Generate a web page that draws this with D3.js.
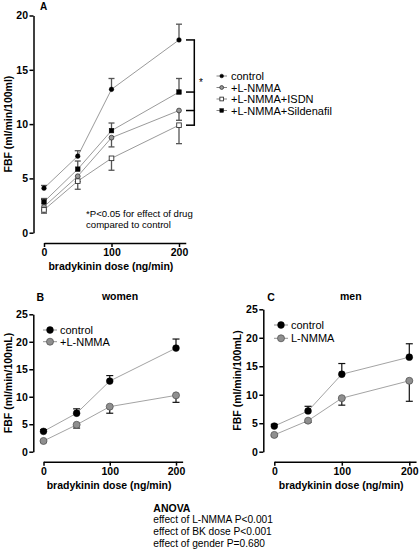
<!DOCTYPE html>
<html><head><meta charset="utf-8">
<script src="https://cdn.jsdelivr.net/npm/d3@7"></script>
<style>
body{margin:0;background:#fff;}
svg{display:block;font-family:"Liberation Sans",Arial,sans-serif;}
</style></head>
<body><svg id="c" width="420" height="558"></svg>
<script>
// ---------- data ----------
const doses = [0, 50, 100, 200];
const xTicks = [0, 100, 200];
const yTicksA = [0, 5, 10, 15, 20];
const yTicksBC = [0, 5, 10, 15, 20, 25];

// Panel A
const aControl = [4.1, 7.05, 13.2, 17.75];
const aControlErr = [0.25, 0.5, 1.0, 1.45];
const aLNMMA = [2.4, 5.2, 8.75, 11.25];
const aLNMMAErr = [0.3, 0.5, 0.85, 0.9];
const aISDN = [2.1, 4.75, 6.85, 9.9];
const aISDNErr = [0.3, 0.75, 1.1, 1.7];
const aSild = [2.85, 5.85, 9.4, 12.95];
const aSildErr = [0.3, 0.75, 0.7, 1.25];
const aLegend = ["control", "+L-NMMA", "+L-NMMA+ISDN", "+L-NMMA+Sildenafil"];

// Panel B (women)
const bControl = [3.7, 7.0, 12.85, 18.85];
const bControlErr = [0.3, 0.8, 1.0, 1.65];
const bLNMMA = [1.95, 4.9, 8.2, 10.25];
const bLNMMAErr = [0.2, 0.6, 1.2, 1.27];
const bLegend = ["control", "+L-NMMA"];

// Panel C (men)
const cControl = [4.5, 7.15, 13.6, 16.6];
const cControlErr = [0.3, 0.82, 1.88, 2.35];
const cLNMMA = [2.95, 5.45, 9.4, 12.45];
const cLNMMAErr = [0.2, 0.3, 1.23, 3.6];
const cLegend = ["control", "L-NMMA"];

const anovaLines = ["effect of L-NMMA P<0.001", "effect of BK dose P<0.001", "effect of gender P=0.680"];

// ---------- drawing ----------
const svg = d3.select("#c");

function axes(g, x, y, yTicks, xAxisY, yAxisX, xLabel, yLabel, yLabelX) {
  const xa = d3.scaleLinear().domain([0, 210]).range([x(0), x(210)]);
  const gx = g.append("g").attr("transform", `translate(0,${xAxisY})`)
    .call(d3.axisBottom(xa).tickValues(xTicks).tickSize(4).tickSizeOuter(0).tickPadding(2));
  const gy = g.append("g").attr("transform", `translate(${yAxisX},0)`)
    .call(d3.axisLeft(y).tickValues(yTicks).tickSize(4).tickSizeOuter(0).tickPadding(1.5));
  [gx, gy].forEach(a => {
    a.selectAll("path,line").attr("stroke", "#000").attr("stroke-width", 1.5);
    a.selectAll("text").attr("font-weight", "bold").attr("font-size", 10.5).attr("fill", "#000")
      .attr("font-family", '"Liberation Sans",Arial,sans-serif');
  });
  g.append("text").attr("x", (x(0) + x(210)) / 2 - 4).attr("y", xAxisY + 27)
    .attr("text-anchor", "middle").attr("font-weight", "bold").attr("font-size", 10.5).text(xLabel);
  const [r0, r1] = y.range();
  g.append("text").attr("transform", `translate(${yLabelX},${(r0 + r1) / 2}) rotate(-90)`)
    .attr("text-anchor", "middle").attr("dominant-baseline", "central")
    .attr("font-weight", "bold").attr("font-size", 10.5).text(yLabel);
}

function series(g, x, y, vals, errs, dir, opt) {
  const line = d3.line().x((d, i) => x(doses[i])).y(d => y(d));
  g.append("path").datum(vals).attr("d", line).attr("fill", "none")
    .attr("stroke", opt.lineColor).attr("stroke-width", 0.8);
}
function errs(g, x, y, vals, errs, dir, opt) {
  vals.forEach((v, i) => {
    const cx = x(doses[i]), y0 = y(v), y1 = y(v + dir * errs[i]);
    g.append("line").attr("x1", cx).attr("x2", cx).attr("y1", y0).attr("y2", y1)
      .attr("stroke", opt.errColor).attr("stroke-width", opt.errW);
    g.append("line").attr("x1", cx - opt.cap / 2).attr("x2", cx + opt.cap / 2).attr("y1", y1).attr("y2", y1)
      .attr("stroke", opt.errColor).attr("stroke-width", opt.errW);
  });
}
function marker(g, cx, cy, m) {
  if (m.shape === "circle") {
    g.append("circle").attr("cx", cx).attr("cy", cy).attr("r", m.r)
      .attr("fill", m.fill).attr("stroke", m.stroke).attr("stroke-width", m.sw);
  } else {
    g.append("rect").attr("x", cx - m.r).attr("y", cy - m.r).attr("width", 2 * m.r).attr("height", 2 * m.r)
      .attr("fill", m.fill).attr("stroke", m.stroke).attr("stroke-width", m.sw);
  }
}
function markers(g, x, y, vals, m) {
  vals.forEach((v, i) => marker(g, x(doses[i]), y(v), m));
}

// ===== Panel A =====
{
  const g = svg.append("g");
  const x = d3.scaleLinear().domain([0, 200]).range([44, 179]);
  const y = d3.scaleLinear().domain([0, 20]).range([232.7, 15.5]);
  axes(g, x, y, yTicksA, 243, 33.5, "bradykinin dose (ng/min)", "FBF (ml/min/100ml)", 7.5);
  g.append("text").attr("x", 40).attr("y", 9.5).attr("font-weight", "bold").attr("font-size", 10).text("A");

  const opt = {lineColor: "#808080", errColor: "#555", errW: 1.3, cap: 6};
  const mk = [
    {shape: "circle", r: 2.3, fill: "#000", stroke: "#000", sw: 0.5},
    {shape: "circle", r: 2.4, fill: "#999", stroke: "#333", sw: 0.8},
    {shape: "rect", r: 2.3, fill: "#fff", stroke: "#333", sw: 0.9},
    {shape: "rect", r: 2.3, fill: "#000", stroke: "#000", sw: 0.5}
  ];
  const all = [[aControl, aControlErr, 1], [aLNMMA, aLNMMAErr, -1], [aISDN, aISDNErr, -1], [aSild, aSildErr, 1]];
  all.forEach(s => series(g, x, y, s[0], s[1], s[2], opt));
  all.forEach(s => errs(g, x, y, s[0], s[1], s[2], opt));
  all.forEach((s, k) => markers(g, x, y, s[0], mk[k]));

  // bracket
  const bx = 194.3;
  const ends = [aControl[3], aSild[3], aLNMMA[3], aISDN[3]].map(v => y(v));
  g.append("line").attr("x1", bx).attr("x2", bx).attr("y1", d3.min(ends)).attr("y2", d3.max(ends))
    .attr("stroke", "#000").attr("stroke-width", 1.5);
  ends.forEach(e => g.append("line").attr("x1", 186).attr("x2", bx + 0.75).attr("y1", e).attr("y2", e)
    .attr("stroke", "#000").attr("stroke-width", 1.5));
  g.append("text").attr("x", 199).attr("y", 86).attr("font-size", 10).attr("fill", "#000").text("*");

  // legend
  aLegend.forEach((t, k) => {
    const ly = 76 + k * 11.5;
    g.append("line").attr("x1", 216.5).attr("x2", 227).attr("y1", ly).attr("y2", ly)
      .attr("stroke", "#666").attr("stroke-width", 0.8);
    marker(g, 221.7, ly, Object.assign({}, mk[k], {r: mk[k].r * 0.8}));
    g.append("text").attr("x", 231).attr("y", ly).attr("dominant-baseline", "central")
      .attr("font-size", 11).text(t);
  });

  g.append("text").attr("x", 86).attr("y", 216.5).attr("font-size", 9.6).text("*P<0.05 for effect of drug");
  g.append("text").attr("x", 86).attr("y", 227.8).attr("font-size", 9.6).text("compared to control");
}

// ===== Panels B and C =====
function panelBC(p) {
  const g = svg.append("g");
  const x = d3.scaleLinear().domain([0, 200]).range(p.xr);
  const y = d3.scaleLinear().domain([0, 25]).range(p.yr);
  axes(g, x, y, yTicksBC, 461.7, p.yAxisX, "bradykinin dose (ng/min)", "FBF (ml/min/100mL)", p.yLabelX);
  g.append("text").attr("x", p.letterX).attr("y", 300.5).attr("font-weight", "bold").attr("font-size", 10.5).text(p.letter);
  g.append("text").attr("x", p.titleX).attr("y", 300).attr("text-anchor", "middle")
    .attr("font-weight", "bold").attr("font-size", 10.5).text(p.title);

  const opt = {lineColor: "#8c8c8c", errColor: "#111", errW: 1.2, cap: 7};
  const mk = [
    {shape: "circle", r: 3.4, fill: "#000", stroke: "#000", sw: 0.5},
    {shape: "circle", r: 3.5, fill: "#8f8f8f", stroke: "#555", sw: 0.8}
  ];
  const all = [[p.ctrl, p.ctrlErr, 1], [p.ln, p.lnErr, -1]];
  all.forEach(s => series(g, x, y, s[0], s[1], s[2], opt));
  all.forEach(s => errs(g, x, y, s[0], s[1], s[2], opt));
  all.forEach((s, k) => markers(g, x, y, s[0], mk[k]));

  p.legend.forEach((t, k) => {
    const ly = p.legY + k * p.legDy;
    g.append("line").attr("x1", p.legX - 7).attr("x2", p.legX + 7).attr("y1", ly).attr("y2", ly)
      .attr("stroke", "#777").attr("stroke-width", 0.8);
    marker(g, p.legX, ly, mk[k]);
    g.append("text").attr("x", p.legX + 10).attr("y", ly).attr("dominant-baseline", "central")
      .attr("font-size", 11).text(t);
  });
}

panelBC({xr: [43.5, 176], yr: [451.7, 314.3], yAxisX: 33.3, yLabelX: 7.5,
  letter: "B", letterX: 36.5, title: "women", titleX: 120,
  ctrl: bControl, ctrlErr: bControlErr, ln: bLNMMA, lnErr: bLNMMAErr,
  legend: bLegend, legX: 50, legY: 330, legDy: 11.7});
panelBC({xr: [274.3, 409.3], yr: [451.7, 309.3], yAxisX: 263.3, yLabelX: 237,
  letter: "C", letterX: 267.3, title: "men", titleX: 350.8,
  ctrl: cControl, ctrlErr: cControlErr, ln: cLNMMA, lnErr: cLNMMAErr,
  legend: cLegend, legX: 281, legY: 325, legDy: 13.3});

// ANOVA text
svg.append("text").attr("x", 153.3).attr("y", 511.5).attr("font-weight", "bold").attr("font-size", 10.5).text("ANOVA");
anovaLines.forEach((t, k) => {
  svg.append("text").attr("x", 153.3).attr("y", 523 + k * 11.8).attr("font-size", 10.2).text(t);
});
</script></body></html>
